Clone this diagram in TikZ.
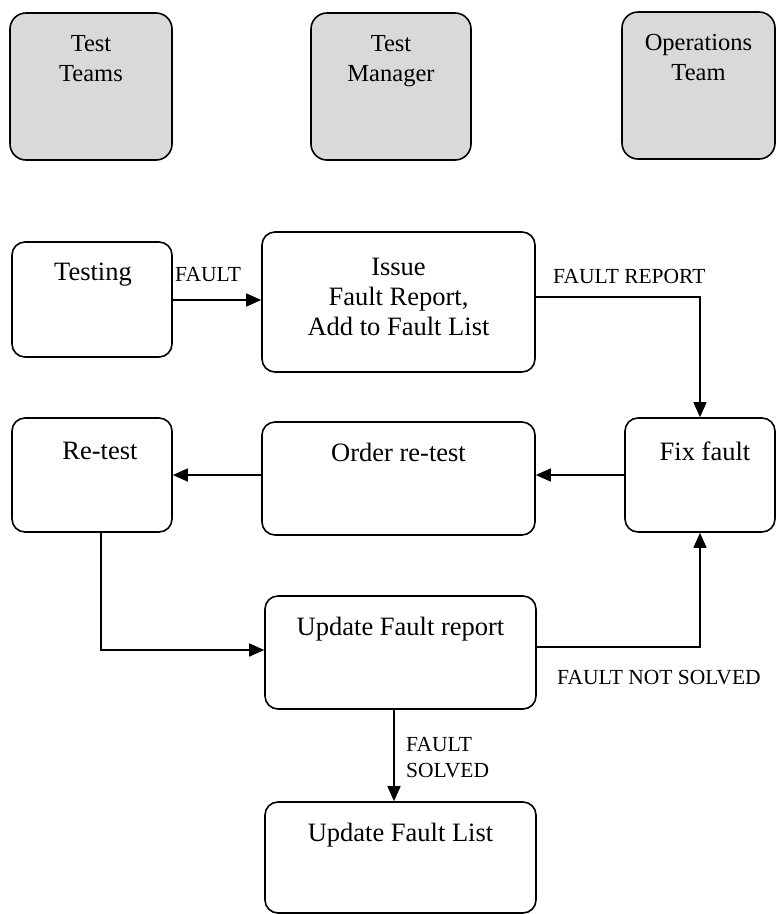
\documentclass[tikz,border=0pt]{standalone}
\usepackage{fontspec}
\setmainfont{Liberation Serif}
\usetikzlibrary{arrows.meta}
\begin{document}
\begin{tikzpicture}[x=1pt,y=-1pt,
  box/.style={draw=black, line width=1.6pt, rounded corners=13pt, inner sep=0pt, fill=white},
  rolebox/.style={box, fill=black!15, rounded corners=16pt},
  boxtext/.style={anchor=north, inner sep=0pt, align=center, font=\fontsize{26.5}{30}\selectfont},
  roletext/.style={anchor=north, inner sep=0pt, align=center, font=\fontsize{24.5}{30.5}\selectfont},
  lbl/.style={anchor=north west, inner sep=0pt, align=left, font=\fontsize{21.5}{26}\selectfont},
  conn/.style={draw=black, line width=1.4pt, -{Triangle[length=15pt,width=13pt]}}
]
\useasboundingbox (0,0) rectangle (776,914);

% role boxes
\node[rolebox, minimum width=162pt, minimum height=147pt] (tt) at (91,86.5) {};
\node[roletext] (tttext) at (91,35) {Test\\Teams};
\node[rolebox, minimum width=160pt, minimum height=147pt] (tm) at (391,86.5) {};
\node[roletext] (tmtext) at (391,35) {Test\\Manager};
\node[rolebox, minimum width=153pt, minimum height=147pt] (ot) at (698.5,85.5) {};
\node[roletext] (ottext) at (698.5,34) {Operations\\Team};

% process boxes
\node[box, minimum width=160pt, minimum height=115pt] (test) at (92,299.5) {};
\node[boxtext] (testtext) at (93,263) {Testing};
\node[box, minimum width=273pt, minimum height=140pt] (issue) at (398.5,302) {};
\node[boxtext] (issuetext) at (398.5,258) {Issue\\Fault Report,\\Add to Fault List};
\node[box, minimum width=150pt, minimum height=114pt] (fix) at (700,475) {};
\node[boxtext] (fixtext) at (705,442) {Fix fault};
\node[box, minimum width=273pt, minimum height=113pt] (order) at (398.5,478.5) {};
\node[boxtext] (ordertext) at (398.5,443) {Order re-test};
\node[box, minimum width=160pt, minimum height=114pt] (retest) at (92,475) {};
\node[boxtext] (retesttext) at (100,442) {Re-test};
\node[box, minimum width=271pt, minimum height=113pt] (upd) at (400.5,652.5) {};
\node[boxtext] (updtext) at (400.5,617) {Update Fault report};
\node[box, minimum width=271pt, minimum height=111pt] (list) at (400.5,857.5) {};
\node[boxtext] (listtext) at (400.5,823) {Update Fault List};

% connectors
\draw[conn] (test.east |- 0,300) -- (issue.west |- 0,300);
\draw[conn] (issue.east |- 0,297) -| (fix.north);
\draw[conn] (fix.west) -- (fix.west -| order.east);
\draw[conn] (fix.west -| order.west) -- (fix.west -| retest.east);
\draw[conn] ([xshift=9pt]retest.south) |- (upd.west |- 0,650);
\draw[conn] (upd.east |- 0,647) -| (fix.south);
\draw[conn] (upd.south -| 394,0) -- (list.north -| 394,0);

% labels
\node[lbl] (lfault) at (175,267) {FAULT};
\node[lbl] (lreport) at (553,269) {FAULT REPORT};
\node[lbl] (lnot) at (557,670) {FAULT NOT SOLVED};
\node[lbl] (lsolved) at (406,737) {FAULT\\SOLVED};
\end{tikzpicture}
\end{document}
